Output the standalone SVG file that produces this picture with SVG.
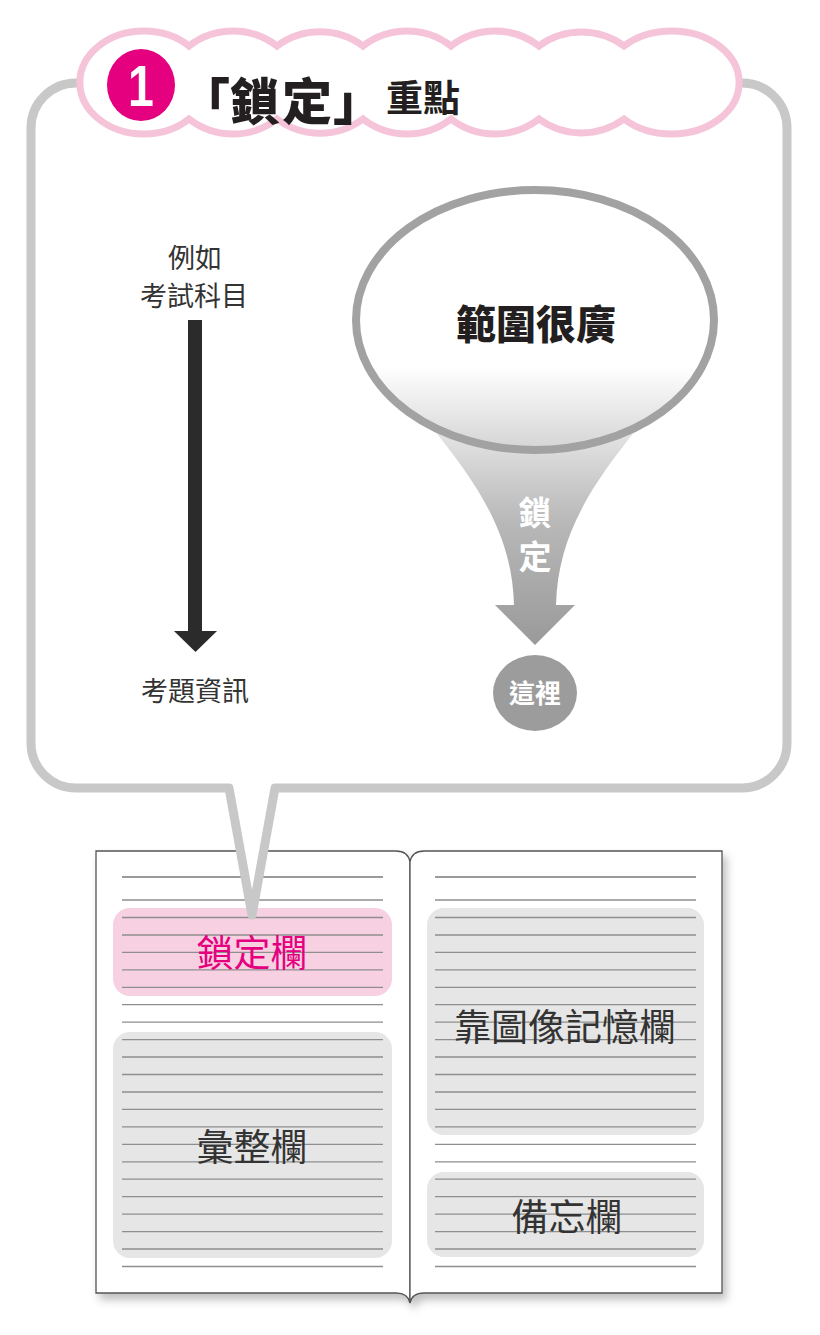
<svg xmlns="http://www.w3.org/2000/svg" width="820" height="1335" viewBox="0 0 820 1335">
<defs>
<style>
.cjk{font-family:"Noto Sans CJK TC","Noto Sans CJK SC",sans-serif;}
.rule{stroke:#8e8e8e;stroke-width:1.3;fill:none;}
.lbl{font-size:27px;fill:#333;text-anchor:middle;}
.col{font-size:37px;fill:#333;text-anchor:middle;}
</style>
<linearGradient id="ellFill" x1="0" y1="0" x2="0" y2="1">
<stop offset="0" stop-color="#ffffff"/>
<stop offset="0.68" stop-color="#ffffff"/>
<stop offset="1" stop-color="#d4d4d4"/>
</linearGradient>
<linearGradient id="funFill" x1="0" y1="400" x2="0" y2="645" gradientUnits="userSpaceOnUse">
<stop offset="0" stop-color="#f4f4f4"/>
<stop offset="0.5" stop-color="#b8b8b8"/>
<stop offset="1" stop-color="#9a9a9a"/>
</linearGradient>
<filter id="shadow" x="-5%" y="-5%" width="115%" height="115%">
<feDropShadow dx="4" dy="6" stdDeviation="4" flood-color="#000" flood-opacity="0.25"/>
</filter>
</defs>
<rect width="820" height="1335" fill="#fff"/>

<g id="book">
<g filter="url(#shadow)">
<path d="M96,851 L396,851 Q408,851 410,862 L410,1303 Q408,1293 396,1293 L96,1293 Z" fill="#fff" stroke="#555" stroke-width="1.3"/>
<path d="M722,851 L424,851 Q412,851 410,862 L410,1303 Q412,1293 424,1293 L722,1293 Z" fill="#fff" stroke="#555" stroke-width="1.3"/>
</g>
<rect id="lockBox" x="113" y="908" width="279" height="88" rx="17" fill="#f7d1e1"/>
<rect id="sumBox" x="113" y="1032" width="279" height="226" rx="17" fill="#e6e6e6"/>
<rect id="imgBox" x="427" y="908" width="277" height="227" rx="17" fill="#e6e6e6"/>
<rect id="memoBox" x="427" y="1172" width="277" height="85" rx="17" fill="#e6e6e6"/>
<g class="rule">
<path d="M122,877H383M435,877H696" stroke-width="2" stroke="#9a9a9a"/>
<path d="M122,900H383M122,917.5H383M122,935H383M122,952.4H383M122,969.8H383M122,987.3H383M122,1004.7H383M122,1022.2H383M122,1039.6H383M122,1057H383M122,1074.5H383M122,1092H383M122,1109.4H383M122,1126.9H383M122,1144.3H383M122,1161.8H383M122,1179.2H383M122,1196.7H383M122,1214.1H383M122,1231.6H383M122,1249H383M122,1266.5H383"/>
<path d="M435,900H696M435,917.5H696M435,935H696M435,952.4H696M435,969.8H696M435,987.3H696M435,1004.7H696M435,1022.2H696M435,1039.6H696M435,1057H696M435,1074.5H696M435,1092H696M435,1109.4H696M435,1126.9H696M435,1144.3H696M435,1161.8H696M435,1179.2H696M435,1196.7H696M435,1214.1H696M435,1231.6H696M435,1249H696M435,1266.5H696"/>
</g>
<text class="cjk col" x="252" y="967" style="fill:#e4007f">鎖定欄</text>
<text class="cjk col" x="252" y="1161">彙整欄</text>
<text class="cjk col" x="565" y="1041">靠圖像記憶欄</text>
<text class="cjk col" x="567" y="1231">備忘欄</text>
</g>

<g id="bubble">
<path d="M76,83 L742,83 A45,45 0 0 1 787,128 L787,743 A45,45 0 0 1 742,788 L275,788 L252,915 L229,788 L76,788 A45,45 0 0 1 31,743 L31,128 A45,45 0 0 1 76,83 Z" fill="#fff" stroke="#c8c8c8" stroke-width="9" stroke-linejoin="round"/>
</g>

<g id="title">
<path d="M189,46 A72,72 0 0 1 277,46 A72,72 0 0 1 363,46 A72,72 0 0 1 451,46 A72,72 0 0 1 539,46 A72,72 0 0 1 624,46 A67.5,51.5 0 1 1 624,119 A72,72 0 0 1 539,119 A72,72 0 0 1 451,119 A72,72 0 0 1 363,119 A72,72 0 0 1 277,119 A72,72 0 0 1 189,119 A64,51.5 0 1 1 189,46 Z" fill="#fff" stroke="#f5c4d9" stroke-width="7"/>
<ellipse cx="141" cy="85" rx="34" ry="36" fill="#e4007f"/>
<text x="141" y="106" font-family="Liberation Sans, Arial, sans-serif" font-weight="bold" font-size="58" fill="#fff" text-anchor="middle" transform="translate(141,0) scale(0.8,1) translate(-141,0)">1</text>
<text class="cjk" x="180 230 282 333" y="120" font-size="50" font-weight="900" fill="#231f20">「鎖定」</text>
<text class="cjk" x="386" y="112" font-size="37" font-weight="700" fill="#231f20">重點</text>
</g>

<g id="left-flow">
<text class="cjk lbl" x="195" y="268">例如</text>
<text class="cjk lbl" x="194" y="306">考試科目</text>
<rect x="188" y="320" width="14" height="312" fill="#2b2b2b"/>
<path d="M174,631 L217,631 L195.5,652 Z" fill="#2b2b2b"/>
<text class="cjk lbl" x="195" y="701">考題資訊</text>
</g>

<g id="funnel">
<path d="M405,395 C468,470 512,525 514,605 L495,605 L535,645 L575,605 L556,605 C558,525 602,470 665,395 Z" fill="url(#funFill)"/>
<text class="cjk" x="535" y="525" font-size="33" font-weight="700" fill="#fff" text-anchor="middle">鎖</text>
<text class="cjk" x="535" y="569" font-size="33" font-weight="700" fill="#fff" text-anchor="middle">定</text>
</g>

<g id="scope">
<ellipse cx="535" cy="320" rx="179" ry="130" fill="url(#ellFill)" stroke="#a2a2a2" stroke-width="8"/>
<text class="cjk" x="536" y="339" font-size="40" font-weight="900" fill="#231f20" text-anchor="middle">範圍很廣</text>
</g>

<g id="here">
<ellipse cx="535" cy="693" rx="42" ry="38" fill="#9c9c9c"/>
<text class="cjk" x="535" y="703" font-size="26" font-weight="700" fill="#fff" text-anchor="middle">這裡</text>
</g>
</svg>
